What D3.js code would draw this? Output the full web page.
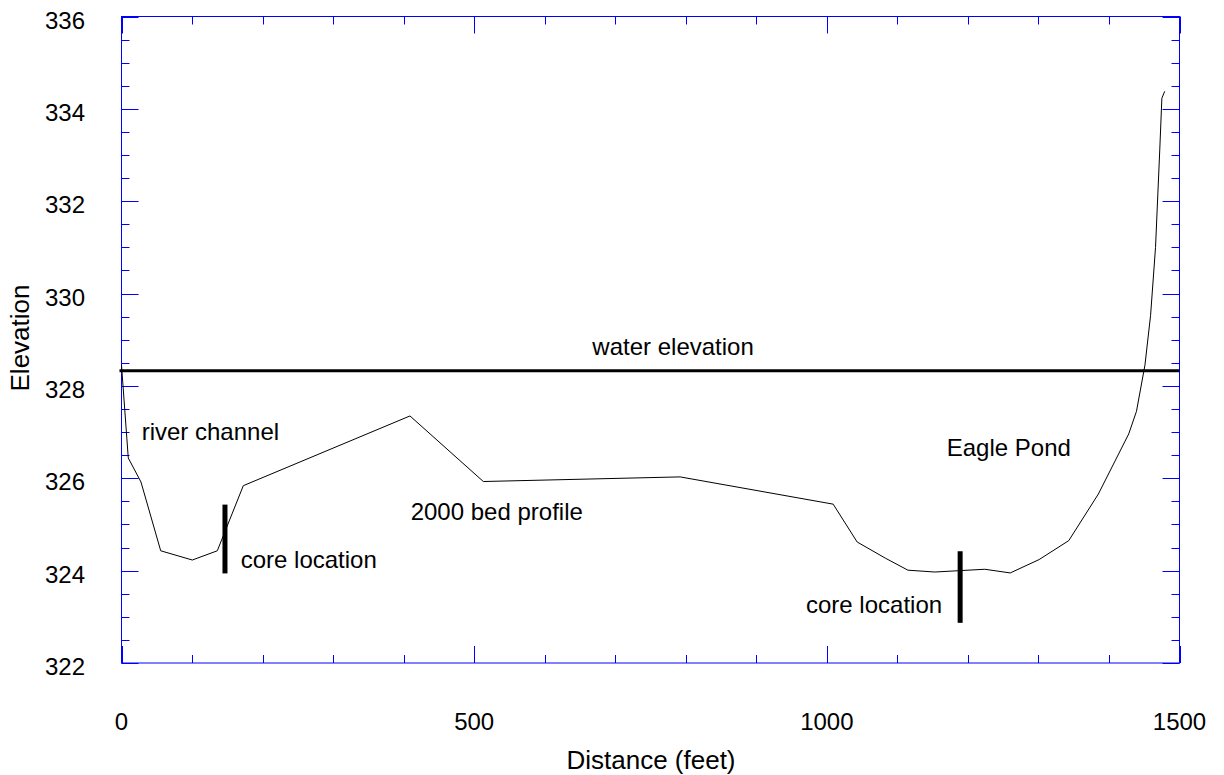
<!DOCTYPE html>
<html>
<head>
<meta charset="utf-8">
<script src="https://cdn.jsdelivr.net/npm/d3@7"></script>
<style>
  body { margin: 0; background: #fff; }
  text { font-family: Arial, "Liberation Sans", sans-serif; fill: #000; }
</style>
</head>
<body>
<svg id="chart" width="1224" height="775"></svg>
<script>
// ---- data ----
const profileX = [0, 9.6, 27.6, 55.6, 100.4, 135.8, 172.7, 409, 513, 792, 1009, 1043, 1083, 1115, 1153, 1224, 1260, 1301, 1343, 1385, 1428, 1439, 1451, 1459, 1466, 1472, 1475, 1479];
const profileElev = [328.45, 326.44, 325.92, 324.43, 324.23, 324.43, 325.84, 327.35, 325.93, 326.03, 325.44, 324.62, 324.27, 324.01, 323.97, 324.03, 323.95, 324.24, 324.65, 325.66, 326.96, 327.45, 328.45, 329.53, 331.0, 333.11, 334.23, 334.38];
const waterElevation = 328.33;
const coreX = [146.7, 1189];
const coreTop = [325.43, 324.42];
const coreBottom = [323.94, 322.87];
const xTickLabels = [0, 500, 1000, 1500];
const yTickLabels = [322, 324, 326, 328, 330, 332, 334, 336];
const labelTexts = ["water elevation", "river channel", "2000 bed profile", "core location", "core location", "Eagle Pond"];
const labelX = [782, 28.6, 410, 169, 970.5, 1170];
const labelElev = [328.67, 326.83, 325.09, 324.06, 323.08, 326.48];
const labelAnchor = ["middle", "start", "start", "start", "start", "start"];

// ---- layout ----
const L = 121.5, R = 1179.5, T = 16.5, B = 663;
const svg = d3.select("#chart");
const x = d3.scaleLinear().domain([0, 1500]).range([L, R]);
const y = d3.scaleLinear().domain([322, 336]).range([B, T]);
const blue = "#0000ff";
const fs = 24;

// minor/major ticks
const g = svg.append("g");
const xMinor = d3.range(0, 1501, 100);
const yMinor = d3.range(322, 336.01, 0.5);
function isMajorX(v) { return xTickLabels.includes(Math.round(v)); }
function isMajorY(v) { return Math.abs(v - Math.round(v / 2) * 2) < 1e-6; }

xMinor.forEach(v => {
  const len = isMajorX(v) ? 17 : 8;
  const px = Math.round(x(v)) + 0.5;
  g.append("line").attr("x1", px).attr("x2", px).attr("y1", B).attr("y2", B - len).attr("stroke", blue);
  g.append("line").attr("x1", px).attr("x2", px).attr("y1", T).attr("y2", T + len).attr("stroke", blue);
});
yMinor.forEach(v => {
  const len = isMajorY(v) ? 17 : 8;
  const py = Math.round(y(v)) + 0.5;
  g.append("line").attr("x1", L).attr("x2", L + len).attr("y1", py).attr("y2", py).attr("stroke", blue);
  g.append("line").attr("x1", R).attr("x2", R - len).attr("y1", py).attr("y2", py).attr("stroke", blue);
});
g.append("rect").attr("x", L).attr("y", T).attr("width", R - L).attr("height", B - T)
  .attr("fill", "none").attr("stroke", blue).attr("stroke-width", 1);

// tick labels
svg.append("g").selectAll("text").data(xTickLabels).join("text")
  .attr("x", d => x(d)).attr("y", 730).attr("text-anchor", "middle")
  .attr("font-size", fs).text(d => d);
svg.append("g").selectAll("text").data(yTickLabels).join("text")
  .attr("x", 85).attr("y", d => y(d) + 12).attr("text-anchor", "end")
  .attr("font-size", fs).text(d => d);

// axis titles
svg.append("text").attr("x", 651).attr("y", 769).attr("text-anchor", "middle")
  .attr("font-size", 26).text("Distance (feet)");
svg.append("text").attr("transform", "translate(29,338) rotate(-90)").attr("text-anchor", "middle")
  .attr("font-size", 26).text("Elevation");

// water line
svg.append("line").attr("x1", x(0) - 2).attr("x2", x(1500)).attr("y1", y(waterElevation)).attr("y2", y(waterElevation))
  .attr("stroke", "#000").attr("stroke-width", 3);

// profile
const pts = profileX.map((d, i) => [d, profileElev[i]]);
svg.append("path").attr("d", d3.line().x(d => x(d[0])).y(d => y(d[1]))(pts))
  .attr("fill", "none").attr("stroke", "#000").attr("stroke-width", 1);

// core bars
coreX.forEach((cx, i) => {
  svg.append("line").attr("x1", x(cx)).attr("x2", x(cx)).attr("y1", y(coreTop[i])).attr("y2", y(coreBottom[i]))
    .attr("stroke", "#000").attr("stroke-width", 5);
});

// annotations
labelTexts.forEach((t, i) => {
  svg.append("text").attr("x", x(labelX[i])).attr("y", y(labelElev[i]))
    .attr("text-anchor", labelAnchor[i]).attr("font-size", 24).text(t);
});
</script>
</body>
</html>
